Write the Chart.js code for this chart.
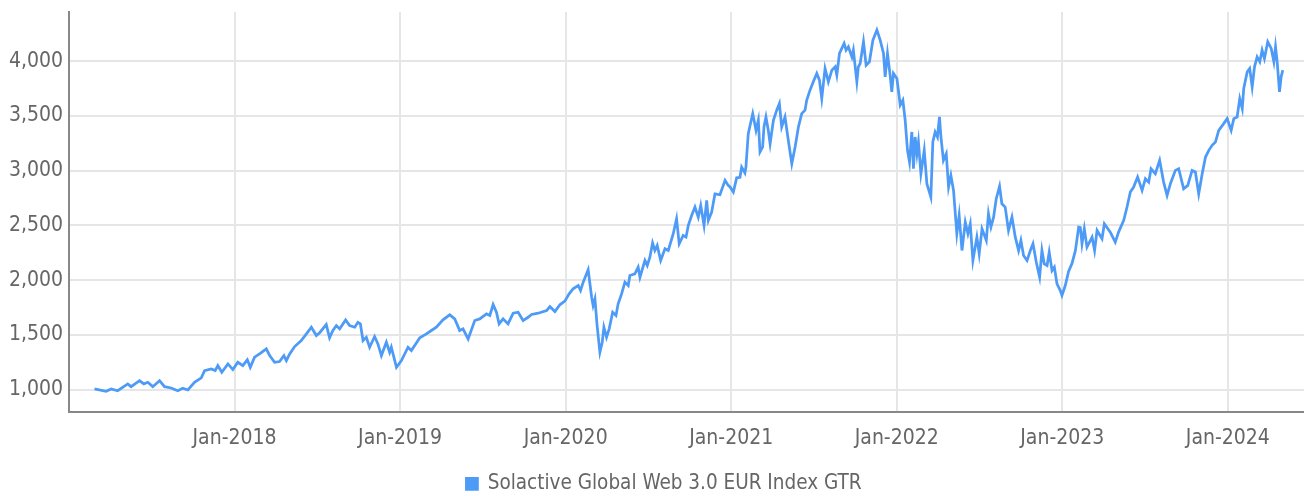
<!DOCTYPE html>
<html>
<head>
<meta charset="utf-8">
<script src="https://cdn.jsdelivr.net/npm/chart.js@4/dist/chart.umd.min.js"></script>
<style>
  html, body { margin: 0; padding: 0; background: #fff; }
  #wrap { width: 1304px; height: 496px; }
</style>
</head>
<body>
<div id="wrap"><canvas id="chart" width="1304" height="496"></canvas></div>
<script>
// x positions as decimal years
const xYears = [
  2017.154, 2017.224, 2017.255, 2017.294, 2017.355, 2017.375, 2017.426, 2017.452, 2017.476, 2017.506,
  2017.547, 2017.577, 2017.617, 2017.657, 2017.687, 2017.718, 2017.758, 2017.799, 2017.819, 2017.859,
  2017.883, 2017.899, 2017.923, 2017.960, 2017.990, 2018.020, 2018.050, 2018.077, 2018.095, 2018.121,
  2018.151, 2018.192, 2018.212, 2018.242, 2018.272, 2018.298, 2018.313, 2018.333, 2018.363, 2018.403,
  2018.434, 2018.464, 2018.494, 2018.514, 2018.554, 2018.574, 2018.594, 2018.615, 2018.635, 2018.671,
  2018.695, 2018.726, 2018.745, 2018.760, 2018.776, 2018.796, 2018.816, 2018.846, 2018.866, 2018.887,
  2018.917, 2018.937, 2018.947, 2018.978, 2019.008, 2019.048, 2019.068, 2019.119, 2019.159, 2019.189,
  2019.219, 2019.259, 2019.300, 2019.330, 2019.360, 2019.380, 2019.411, 2019.451, 2019.481, 2019.522,
  2019.542, 2019.562, 2019.582, 2019.598, 2019.622, 2019.652, 2019.683, 2019.713, 2019.743, 2019.773,
  2019.794, 2019.834, 2019.885, 2019.905, 2019.935, 2019.965, 2019.995, 2020.021, 2020.045, 2020.076,
  2020.090, 2020.106, 2020.136, 2020.157, 2020.166, 2020.177, 2020.190, 2020.207, 2020.221, 2020.231,
  2020.247, 2020.263, 2020.284, 2020.304, 2020.317, 2020.338, 2020.358, 2020.378, 2020.388, 2020.418,
  2020.438, 2020.449, 2020.479, 2020.493, 2020.509, 2020.525, 2020.539, 2020.553, 2020.574, 2020.600,
  2020.620, 2020.650, 2020.670, 2020.686, 2020.710, 2020.727, 2020.741, 2020.761, 2020.781, 2020.801,
  2020.816, 2020.836, 2020.852, 2020.862, 2020.882, 2020.902, 2020.932, 2020.963, 2020.982, 2020.993,
  2021.013, 2021.033, 2021.053, 2021.063, 2021.083, 2021.089, 2021.103, 2021.130, 2021.150, 2021.164,
  2021.174, 2021.190, 2021.198, 2021.210, 2021.224, 2021.235, 2021.255, 2021.275, 2021.291, 2021.305,
  2021.325, 2021.345, 2021.366, 2021.386, 2021.406, 2021.426, 2021.446, 2021.456, 2021.476, 2021.496,
  2021.517, 2021.533, 2021.547, 2021.567, 2021.587, 2021.608, 2021.628, 2021.638, 2021.654, 2021.682,
  2021.694, 2021.708, 2021.729, 2021.738, 2021.759, 2021.768, 2021.779, 2021.799, 2021.815, 2021.835,
  2021.856, 2021.880, 2021.900, 2021.920, 2021.930, 2021.944, 2021.960, 2021.970, 2021.980, 2022.001,
  2022.021, 2022.037, 2022.051, 2022.065, 2022.077, 2022.091, 2022.101, 2022.111, 2022.122, 2022.131,
  2022.146, 2022.166, 2022.182, 2022.206, 2022.218, 2022.232, 2022.246, 2022.258, 2022.267, 2022.282,
  2022.299, 2022.313, 2022.327, 2022.343, 2022.363, 2022.377, 2022.394, 2022.414, 2022.430, 2022.444,
  2022.460, 2022.484, 2022.498, 2022.515, 2022.541, 2022.554, 2022.569, 2022.585, 2022.601, 2022.621,
  2022.635, 2022.655, 2022.675, 2022.696, 2022.716, 2022.736, 2022.750, 2022.766, 2022.787, 2022.807,
  2022.823, 2022.843, 2022.863, 2022.877, 2022.891, 2022.908, 2022.921, 2022.938, 2022.952, 2022.968,
  2022.988, 2022.998, 2023.018, 2023.038, 2023.059, 2023.079, 2023.099, 2023.109, 2023.119, 2023.133,
  2023.149, 2023.180, 2023.195, 2023.210, 2023.240, 2023.254, 2023.290, 2023.320, 2023.340, 2023.371,
  2023.391, 2023.411, 2023.431, 2023.455, 2023.482, 2023.502, 2023.522, 2023.536, 2023.562, 2023.588,
  2023.612, 2023.633, 2023.653, 2023.683, 2023.703, 2023.733, 2023.758, 2023.784, 2023.804, 2023.824,
  2023.845, 2023.865, 2023.885, 2023.905, 2023.925, 2023.945, 2023.975, 2023.996, 2024.020, 2024.036,
  2024.056, 2024.072, 2024.087, 2024.096, 2024.117, 2024.132, 2024.147, 2024.161, 2024.177, 2024.193,
  2024.207, 2024.221, 2024.241, 2024.262, 2024.278, 2024.288, 2024.298, 2024.312, 2024.322, 2024.332
];

const indexValues = [
  1006, 985, 1006, 990, 1052, 1027, 1082, 1052, 1067, 1027,
  1082, 1027, 1015, 990, 1012, 997, 1067, 1107, 1174, 1189,
  1174, 1220, 1158, 1235, 1183, 1250, 1220, 1272, 1204, 1296,
  1326, 1372, 1311, 1250, 1256, 1311, 1265, 1326, 1393, 1448,
  1509, 1570, 1494, 1520, 1594, 1473, 1540, 1585, 1555, 1637,
  1585, 1570, 1615, 1600, 1448, 1478, 1387, 1485, 1418, 1311,
  1433, 1341, 1387, 1204, 1265, 1387, 1357, 1473, 1509, 1540,
  1570, 1637, 1683, 1646, 1540, 1555, 1463, 1631, 1646, 1692,
  1677, 1777, 1707, 1600, 1646, 1600, 1698, 1707, 1631, 1661,
  1686, 1698, 1722, 1759, 1713, 1775, 1808, 1875, 1921, 1951,
  1905, 1982, 2095, 1844, 1768, 1829, 1585, 1341, 1433, 1570,
  1478, 1555, 1707, 1677, 1784, 1875, 1982, 1951, 2043, 2058,
  2119, 2027, 2180, 2134, 2210, 2339, 2271, 2317, 2180, 2287,
  2271, 2424, 2561, 2332, 2409, 2393, 2500, 2591, 2668, 2576,
  2683, 2500, 2729, 2546, 2622, 2789, 2780, 2912, 2866, 2851,
  2805, 2935, 2940, 3033, 2980, 3033, 3339, 3522, 3369, 3461,
  3171, 3217, 3400, 3491, 3369, 3247, 3461, 3553, 3614, 3400,
  3491, 3278, 3064, 3217, 3400, 3522, 3553, 3644, 3736, 3812,
  3888, 3827, 3659, 3934, 3812, 3919, 3949, 3873, 4071, 4163,
  4101, 4132, 4040, 4101, 3812, 3949, 3980, 4178, 3964, 3995,
  4193, 4285, 4193, 4071, 3858, 4071, 3873, 3720, 3888, 3842,
  3600, 3644, 3460, 3186, 3079, 3354, 3018, 3308, 3155, 3262,
  2973, 3186, 2881, 2759, 3262, 3354, 3308, 3491, 3308, 3095,
  3155, 2851, 2957, 2820, 2424, 2591, 2271, 2530, 2424, 2515,
  2180, 2393, 2241, 2469, 2363, 2607, 2485, 2576, 2744, 2857,
  2698, 2668, 2454, 2576, 2393, 2271, 2363, 2225, 2180, 2271,
  2332, 2164, 2027, 2271, 2149, 2134, 2256, 2088, 2119, 1966,
  1905, 1860, 1951, 2080, 2155, 2270, 2485, 2480, 2332, 2469,
  2302, 2393, 2271, 2454, 2378, 2515, 2439, 2347, 2439, 2546,
  2668, 2805, 2851, 2942, 2820, 2927, 2896, 3018, 2973, 3095,
  2896, 2774, 2881, 3003, 3018, 2835, 2866, 3003, 2988, 2789,
  2973, 3125, 3186, 3232, 3262, 3369, 3430, 3476, 3369, 3476,
  3491, 3659, 3568, 3751, 3903, 3934, 3766, 3949, 4040, 3995,
  4101, 4025, 4178, 4117, 3995, 4132, 3995, 3720, 3858, 3919
];

const yearTicks = [2018, 2019, 2020, 2021, 2022, 2023, 2024];
const yearLabels = ['Jan-2018', 'Jan-2019', 'Jan-2020', 'Jan-2021', 'Jan-2022', 'Jan-2023', 'Jan-2024'];
const valueTicks = [1000, 1500, 2000, 2500, 3000, 3500, 4000];
const seriesName = 'Solactive Global Web 3.0 EUR Index GTR';

const FONT = "'Liberation Sans Narrow', 'DejaVu Sans Condensed', 'Roboto', sans-serif";
const TEXT = '#666666';
const LINE = '#4d9bf7';

const points = xYears.map((x, i) => ({ x: x, y: indexValues[i] }));

// legend in the original sits a bit lower and right of where chart.js puts it
const legendShift = {
    id: 'legendShift',
    afterLayout(chart) {
        const lg = chart.legend;
        if (lg) {
            lg.left += 12;
            lg.right += 12;
            lg.top += 8;
            lg.bottom += 8;
        }
    }
};

new Chart(document.getElementById('chart').getContext('2d'), {
    type: 'line',
    data: {
        datasets: [{
            label: seriesName,
            data: points,
            borderColor: LINE,
            backgroundColor: LINE,
            borderWidth: 2.75,
            pointRadius: 0,
            tension: 0,
            fill: false
        }]
    },
    options: {
        responsive: false,
        animation: false,
        devicePixelRatio: 1,
        layout: { padding: { top: 12, right: 0, left: 0, bottom: 0 } },
        plugins: {
            tooltip: { enabled: false },
            legend: {
                position: 'bottom',
                labels: {
                    boxWidth: 11,
                    boxHeight: 11,
                    padding: 3,
                    color: TEXT,
                    font: { family: FONT, size: 20.5 }
                }
            }
        },
        scales: {
            x: {
                type: 'linear',
                min: 2017,
                max: 2024.46,
                afterBuildTicks: s => { s.ticks = yearTicks.map(v => ({ value: v })); },
                afterFit: s => { s.height = 51; s.paddingLeft = 0; s.paddingRight = 0; },
                ticks: {
                    color: TEXT,
                    padding: 14,
                    maxRotation: 0,
                    font: { family: FONT, size: 21 },
                    callback: (v) => yearLabels[yearTicks.indexOf(v)] || ''
                },
                grid: { color: '#e6e6e6', lineWidth: 2, drawTicks: false },
                border: { display: true, color: '#888888', width: 2 }
            },
            y: {
                min: 800,
                max: 4450,
                afterBuildTicks: s => { s.ticks = valueTicks.map(v => ({ value: v })); },
                afterFit: s => { s.width = 69; s.paddingTop = 0; s.paddingBottom = 0; },
                ticks: {
                    color: TEXT,
                    padding: 6,
                    font: { family: FONT, size: 21 },
                    callback: (v) => v.toLocaleString('en-US')
                },
                grid: { color: '#e6e6e6', lineWidth: 2, drawTicks: false },
                border: { display: true, color: '#888888', width: 2 }
            }
        }
    },
    plugins: [legendShift]
});
</script>
</body>
</html>
